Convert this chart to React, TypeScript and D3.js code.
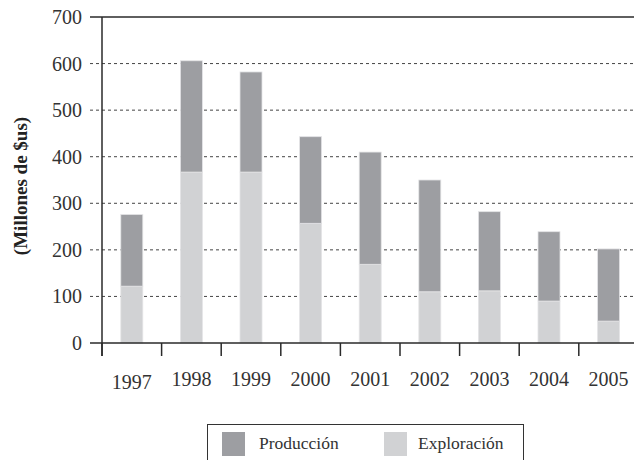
import React from "react";
import * as d3 from "d3";

const years = ["1997", "1998", "1999", "2000", "2001", "2002", "2003", "2004", "2005"];
const exploracion = [122, 367, 367, 257, 169, 110, 112, 90, 47];
const produccion = [154, 239, 215, 186, 241, 240, 170, 149, 155];
const yTicks = [0, 100, 200, 300, 400, 500, 600, 700];
const seriesNames = ["Producción", "Exploración"];

const W = 634;
const H = 460;
const FONT = "'Liberation Serif', 'DejaVu Serif', serif";
const C_PROD = "#9d9ea2";
const C_EXP = "#d1d2d4";
const AX = "#2a2a2a";

export default function App() {
  const x = d3.scaleBand<string>().domain(years).range([102, 102 + 59.6 * years.length]).paddingInner(0).paddingOuter(0);
  const y = d3.scaleLinear().domain([0, 700]).range([343, 17]);
  const barW = 22;

  const rows = years.map((yr, i) => ({ year: yr, exp: exploracion[i], prod: produccion[i] }));
  const stack = d3.stack<any>().keys(["exp", "prod"])(rows);

  return (
    <svg width={W} height={H} style={{ position: "absolute", left: 0, top: 0, background: "#fff" }}>
      {yTicks.filter((t) => t > 0 && t < 700).map((t) => (
        <line key={t} x1={90} x2={W} y1={y(t)} y2={y(t)} stroke="#444" strokeWidth={1} strokeDasharray="3,3" />
      ))}
      {stack.map((s, si) => (
        <g key={s.key} fill={si === 0 ? C_EXP : C_PROD}>
          {s.map((d: any, i: number) => {
            const cx = (x(years[i]) as number) + x.bandwidth() / 2;
            return (
              <rect key={i} x={cx - barW / 2} width={barW} y={y(d[1])} height={y(d[0]) - y(d[1])} stroke="#e4e4e6" strokeWidth={0.8} />
            );
          })}
        </g>
      ))}
      <line x1={90} x2={W} y1={y(700)} y2={y(700)} stroke={AX} strokeWidth={1.5} />
      <line x1={102} x2={102} y1={y(700)} y2={356} stroke={AX} strokeWidth={1.5} />
      <line x1={90} x2={W} y1={y(0)} y2={y(0)} stroke={AX} strokeWidth={1.5} />
      {years.map((yr) => (
        <line key={yr} x1={x(yr) as number} x2={x(yr) as number} y1={y(0)} y2={356} stroke={AX} strokeWidth={1.5} />
      ))}
      {yTicks.map((t) => (
        <text key={t} x={82} y={y(t)} dy="0.35em" textAnchor="end" fontFamily={FONT} fontSize={20} fill="#333">
          {t}
        </text>
      ))}
      {years.map((yr, i) => (
        <text key={yr} x={(x(yr) as number) + x.bandwidth() / 2} y={i === 0 ? 389 : 386} textAnchor="middle" fontFamily={FONT} fontSize={20} fill="#333">
          {yr}
        </text>
      ))}
      <text transform="translate(27,186) rotate(-90)" textAnchor="middle" fontFamily={FONT} fontSize={19} fontWeight="bold" fill="#222">
        (Millones de $us)
      </text>
      <rect x={207.5} y={424.5} width={316} height={45} fill="none" stroke="#333" strokeWidth={1} />
      <rect x={222} y={432} width={23} height={24} fill={C_PROD} />
      <text x={259} y={443} dy="0.35em" fontFamily={FONT} fontSize={17.5} fill="#333">{seriesNames[0]}</text>
      <rect x={384} y={432} width={23} height={24} fill={C_EXP} />
      <text x={418} y={443} dy="0.35em" fontFamily={FONT} fontSize={17.5} fill="#333">{seriesNames[1]}</text>
    </svg>
  );
}
